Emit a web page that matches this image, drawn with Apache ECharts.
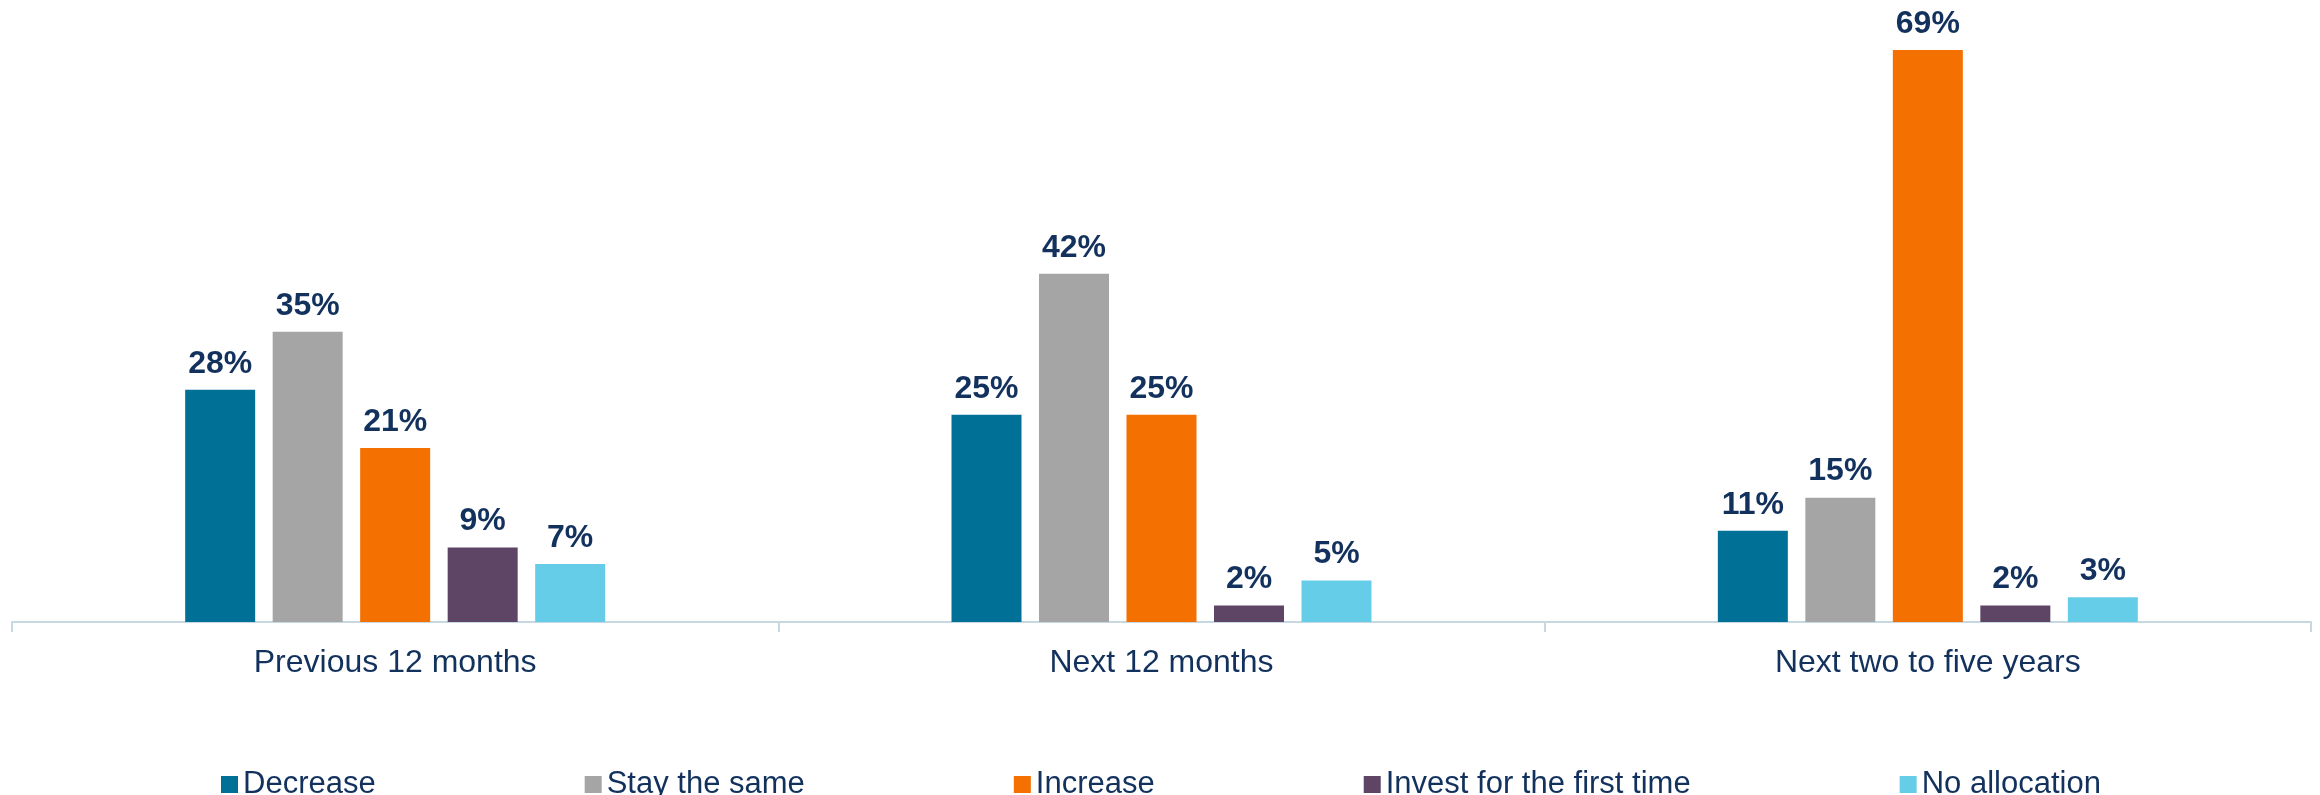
<!DOCTYPE html>
<html>
<head>
<meta charset="utf-8">
<title>Allocation intentions</title>
<script src="https://cdn.jsdelivr.net/npm/echarts@6/dist/echarts.min.js"></script>
<style>
  html, body { margin: 0; padding: 0; background: #ffffff; }
  #chart { width: 2320px; height: 795px; }
</style>
</head>
<body>
<div id="chart"></div>
<script>
// Time horizons shown along the x axis
const periods = ['Previous 12 months', 'Next 12 months', 'Next two to five years'];

// Share of respondents (%) per answer
const decrease = [28, 25, 11];
const stayTheSame = [35, 42, 15];
const increase = [21, 25, 69];
const investFirstTime = [9, 2, 2];
const noAllocation = [7, 5, 3];

const seriesNames = ['Decrease', 'Stay the same', 'Increase', 'Invest for the first time', 'No allocation'];
const seriesValues = [decrease, stayTheSame, increase, investFirstTime, noAllocation];
const seriesColors = ['#007096', '#a5a5a5', '#f47000', '#5f4565', '#66cde9'];

const navy = '#12315d';
const fontFamily = '"Liberation Sans", Arial, sans-serif';

const chart = echarts.init(document.getElementById('chart'));

chart.setOption({
  backgroundColor: '#ffffff',
  animation: false,
  grid: { left: 12, right: 9, top: 25, bottom: 173, containLabel: false },
  legend: {
    data: seriesNames,
    left: 216,
    top: 764,
    itemWidth: 17,
    itemHeight: 17,
    itemGap: 209,
    icon: 'rect',
    textStyle: { color: navy, fontSize: 31, fontFamily: fontFamily, padding: [0, 0, 0, 0] }
  },
  xAxis: {
    type: 'category',
    data: periods,
    axisLine: { show: true, lineStyle: { color: '#c6d9e2', width: 2 } },
    axisTick: { show: true, length: 10, lineStyle: { color: '#c6d9e2', width: 2 } },
    axisLabel: { color: navy, fontSize: 32, fontFamily: fontFamily, margin: 25 }
  },
  yAxis: {
    type: 'value',
    min: 0,
    max: 72,
    show: false,
    splitLine: { show: false }
  },
  series: seriesNames.map((name, i) => ({
    name: name,
    type: 'bar',
    data: seriesValues[i],
    barWidth: 70,
    barGap: '25%',
    itemStyle: { color: seriesColors[i] },
    label: {
      show: true,
      position: 'top',
      distance: 10,
      formatter: '{c}%',
      color: navy,
      fontSize: 32,
      fontWeight: 'bold',
      fontFamily: fontFamily
    }
  }))
});
</script>
</body>
</html>
